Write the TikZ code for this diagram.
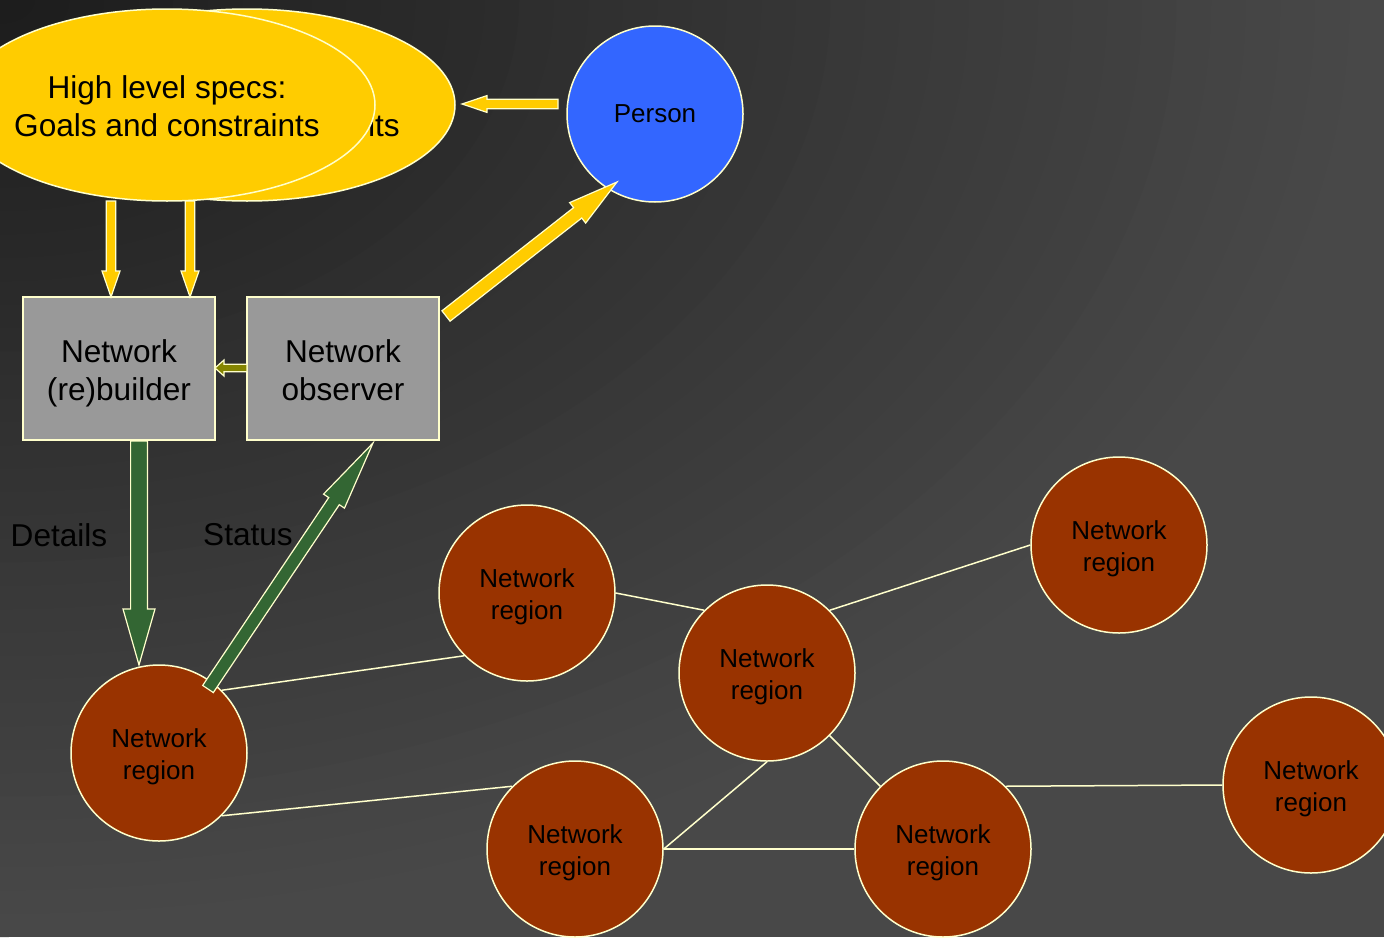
\documentclass[tikz,border=0pt]{standalone}
\usepackage{fontspec}
\setmainfont{Liberation Sans}
\usetikzlibrary{calc,shapes.geometric}
\definecolor{gold}{HTML}{FFCC00}
\definecolor{cream}{HTML}{FFFFCC}
\definecolor{personblue}{HTML}{3366FF}
\definecolor{rust}{HTML}{993300}
\definecolor{boxgray}{HTML}{999999}
\definecolor{darkgreen}{HTML}{336633}
\definecolor{oliveish}{HTML}{858500}
\definecolor{bgA}{HTML}{1C1C1C}
\definecolor{bgB}{HTML}{484848}
% block arrow: from, to, half shaft, half head, head length, fill
\newcommand\blockarrow[6]{%
  \coordinate (bahead) at ($(#2)!#5!(#1)$);
  \draw[arrowoutline, fill=#6]
    ($(#1)!#3!90:(#2)$) -- ($(bahead)!#3!90:(#2)$) -- ($(bahead)!#4!90:(#2)$)
    -- (#2) -- ($(bahead)!#4!-90:(#2)$) -- ($(bahead)!#3!-90:(#2)$)
    -- ($(#1)!#3!-90:(#2)$) -- cycle;}
\begin{document}
\begin{tikzpicture}[x=0.5pt,y=-0.5pt,
  arrowoutline/.style={draw=cream, line width=0.6pt, line join=miter},
  specs/.style={ellipse, draw=cream, line width=0.75pt, fill=gold, minimum width=208pt, minimum height=96pt, inner sep=0pt},
  specstext/.style={align=center, font=\fontsize{15.8}{19}\selectfont},
  region/.style={circle, draw=cream, line width=0.75pt, fill=rust, minimum size=88pt, inner sep=0pt, align=center, font=\fontsize{13}{16}\selectfont},
  personnode/.style={circle, draw=cream, line width=0.75pt, fill=personblue, minimum size=88pt, inner sep=0pt, font=\fontsize{13}{16}\selectfont},
  grbox/.style={rectangle, draw=cream, line width=0.75pt, fill=boxgray, minimum width=96pt, minimum height=71.5pt, inner sep=0pt},
  label/.style={font=\fontsize{15.8}{19}\selectfont, text=black},
  link/.style={draw=cream, line width=0.75pt}]
\useasboundingbox (0,0) rectangle (1384,937);
% stepped elliptical background gradient from the top-left corner
\begin{scope}
\clip (0,0) rectangle (1384,937);
\fill[bgB] (0,0) rectangle (1384,937);
\foreach \k in {40,39,...,1}{
  \pgfmathsetmacro\pc{2.5*\k}
  \pgfmathsetmacro\rx{34.6*\k/2}
  \pgfmathsetmacro\ry{23.425*\k/2}
  \fill[bgB!\pc!bgA] (0,0) ellipse [x radius=\rx pt, y radius=\ry pt];
}
\end{scope}

% ellipses
\node[specs] (specsback) at (247,105) {};
\node[specstext] (specsbacktext) at (247,110) {High level specs:\strut\\Goals and constraints\strut};
\node[specs] (specs) at (167,105) {};
\node[specstext] (specstext) at (167,110) {High level specs:\strut\\Goals and constraints\strut};

% person
\node[personnode] (person) at (655,114) {Person};

% boxes
\node[grbox] (builder) at (119,368.5) {};
\node[grbox] (observer) at (343,368.5) {};
\node[specstext] (buildertext) at (119,374) {Network\strut\\(re)builder\strut};
\node[specstext] (observertext) at (343,374) {Network\strut\\observer\strut};

% labels
\node[label] (details) at (59,535) {Details};
\node[label] (status) at (248,535) {Status};

% regions
\node[region] (r1) at (527,593) {};
\node[region] (r2) at (767,673) {};
\node[region] (r3) at (1119,545) {};
\node[region] (r4) at (159,753) {};
\node[region] (r5) at (575,849) {};
\node[region] (r6) at (943,849) {};
\node[region] (r7) at (1311,785) {};
\foreach \r in {r1,r2,r3,r4,r5,r6,r7}
  \node[align=center, font=\fontsize{13}{16}\selectfont] (\r text) at ([yshift=-2pt]\r) {Network\strut\\region\strut};

% region links
\draw[link] (r1.0) -- (r2.135);
\draw[link] (r2.45) -- (r3.180);
\draw[link] (r4.45) -- (r1.225);
\draw[link] (r4.-45) -- (r5.135);
\draw[link] (r2.270) -- (r5.0);
\draw[link] (r5.0) -- (r6.180);
\draw[link] (r2.-45) -- (r6.135);
\draw[link] (r6.45) -- (r7.180);

% arrow end points
\coordinate (pA) at (558,104);
\coordinate (pB) at (462,104);
\coordinate (d1A) at (111,201);
\coordinate (d1B) at (111,297);
\coordinate (d2A) at (190,201);
\coordinate (d2B) at (190,297);
\coordinate (oA) at (247,368);
\coordinate (oB) at (215,368);
\coordinate (yA) at (446,316);
\coordinate (yB) at (617,182);
\coordinate (gA) at (139,441);
\coordinate (gB) at (139,665);
\coordinate (sA) at (208,689);
\coordinate (sB) at (373,443);

% arrows
\blockarrow{pA}{pB}{2.4pt}{4.2pt}{12.5pt}{gold}
\blockarrow{d1A}{d1B}{2.4pt}{4.5pt}{13pt}{gold}
\blockarrow{d2A}{d2B}{2.4pt}{4.5pt}{13pt}{gold}
\blockarrow{oA}{oB}{1.9pt}{4pt}{4.5pt}{oliveish}
\blockarrow{yA}{yB}{3.3pt}{6.5pt}{25pt}{gold}
\blockarrow{gA}{gB}{4.2pt}{8pt}{28pt}{darkgreen}
\blockarrow{sA}{sB}{3.2pt}{6.3pt}{35pt}{darkgreen}
\end{tikzpicture}
\end{document}
